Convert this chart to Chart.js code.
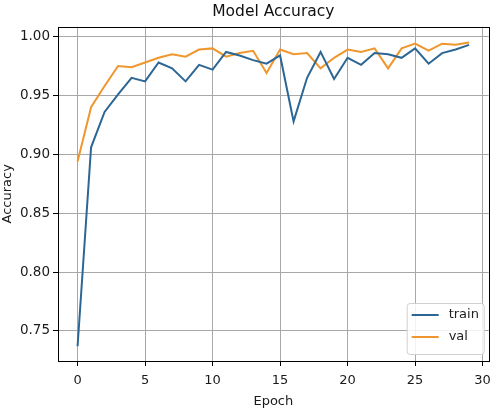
<!DOCTYPE html>
<html>
<head>
<meta charset="utf-8">
<script src="https://cdn.jsdelivr.net/npm/chart.js@4/dist/chart.umd.min.js"></script>
<style>
  html, body { margin: 0; padding: 0; background: #ffffff; }
  canvas { display: block; }
</style>
</head>
<body>
<canvas id="accChart" width="498" height="409"></canvas>
<script>
// ===============================
// Data
// ===============================

const epochs = [0, 1, 2, 3, 4, 5, 6, 7, 8, 9, 10, 11, 12, 13, 14,
                15, 16, 17, 18, 19, 20, 21, 22, 23, 24, 25, 26, 27, 28, 29];

const trainAcc = [0.737, 0.906, 0.936, 0.951, 0.965, 0.962, 0.978, 0.973, 0.962, 0.976,
                  0.972, 0.987, 0.984, 0.980, 0.977, 0.984, 0.928, 0.965, 0.987, 0.964,
                  0.982, 0.976, 0.986, 0.985, 0.982, 0.990, 0.977, 0.986, 0.989, 0.993];

const valAcc = [0.894, 0.940, 0.958, 0.975, 0.974, 0.978, 0.982, 0.985, 0.983, 0.989,
                0.990, 0.983, 0.986, 0.988, 0.969, 0.989, 0.985, 0.986, 0.973, 0.982,
                0.989, 0.987, 0.990, 0.973, 0.990, 0.994, 0.988, 0.994, 0.993, 0.995];

const xTicks = [0, 5, 10, 15, 20, 25, 30];
const yTicks = [0.75, 0.80, 0.85, 0.90, 0.95, 1.00];

// ===============================
// Styles
// ===============================

const FONT = "'DejaVu Sans', sans-serif";
const BLUE = "#2c6694";
const ORANGE = "#f0962e";
const GRID = "#a8a8a8";

// ===============================
// Plugins
// ===============================

// black frame round the plot area (matplotlib spines)
const framePlugin = {
    id: "frame",
    afterDraw(chart){
        const a = chart.chartArea;
        const c = chart.ctx;
        c.save();
        c.strokeStyle = "#000";
        c.lineWidth = 1;
        c.strokeRect(Math.round(a.left)+0.5, Math.round(a.top)+0.5,
                     Math.round(a.right-a.left), Math.round(a.bottom-a.top));
        c.restore();
    }
};

// legend in the lower right corner of the plot
const cornerLegend = {
    id: "cornerLegend",
    afterDraw(chart){
        const a = chart.chartArea;
        const c = chart.ctx;
        const sets = chart.data.datasets;
        const w = 77, rowH = 22;
        const h = sets.length*rowH + 7;
        const x = a.right - w - 5;
        const y = a.bottom - h - 7;

        c.save();
        c.fillStyle = "rgba(255,255,255,0.85)";
        c.strokeStyle = "#d0d0d0";
        c.lineWidth = 1;
        c.beginPath();
        c.roundRect(x+0.5, y+0.5, w, h, 3);
        c.fill();
        c.stroke();

        c.font = "13px " + FONT;
        c.textBaseline = "middle";
        sets.forEach((ds, i)=>{
            const cy = y + 12 + i*rowH;
            c.strokeStyle = ds.borderColor;
            c.lineWidth = 2;
            c.beginPath();
            c.moveTo(x+5, cy);
            c.lineTo(x+32, cy);
            c.stroke();
            c.fillStyle = "#222";
            c.fillText(ds.label, x+42, cy);
        });
        c.restore();
    }
};

// ===============================
// Chart
// ===============================

const ctx = document.getElementById("accChart");

const chart = new Chart(ctx, {
    type: "line",
    data: {
        datasets: [{
            label: "train",
            data: epochs.map((e, i)=>({x: e, y: trainAcc[i]})),
            borderColor: BLUE,
            borderWidth: 2,
            pointRadius: 0,
            tension: 0,
            fill: false
        },{
            label: "val",
            data: epochs.map((e, i)=>({x: e, y: valAcc[i]})),
            borderColor: ORANGE,
            borderWidth: 2,
            pointRadius: 0,
            tension: 0,
            fill: false
        }]
    },
    options: {
        responsive: false,
        animation: false,
        devicePixelRatio: 1,
        layout: { padding: { left: 0, right: 1, top: 0, bottom: 0 } },
        plugins: {
            legend: { display: false },
            tooltip: { enabled: false },
            title: {
                display: true,
                fullSize: false,
                text: "Model Accuracy",
                color: "#111",
                font: { family: FONT, size: 15.5, weight: "normal", lineHeight: 1.2 },
                padding: { top: 3, bottom: 5 }
            }
        },
        scales: {
            x: {
                type: "linear",
                min: -1.45,
                max: 30.45,
                afterBuildTicks: (s)=>{ s.ticks = xTicks.map(v=>({value: v})); },
                afterFit: (s)=>{ s.height = 48; },
                grid: { color: GRID, lineWidth: 1, tickColor: "#000", tickLength: 5 },
                border: { display: false },
                ticks: {
                    color: "#1a1a1a",
                    font: { family: FONT, size: 13 },
                    padding: 7,
                    maxRotation: 0,
                    callback: (v)=>String(v)
                },
                title: {
                    display: true,
                    text: "Epoch",
                    color: "#1a1a1a",
                    font: { family: FONT, size: 13 },
                    padding: { top: 0, bottom: 0 }
                }
            },
            y: {
                min: 0.7245,
                max: 1.0085,
                afterBuildTicks: (s)=>{ s.ticks = yTicks.map(v=>({value: v})); },
                afterFit: (s)=>{ s.width = 58; },
                grid: { color: GRID, lineWidth: 1, tickColor: "#000", tickLength: 5 },
                border: { display: false },
                ticks: {
                    color: "#1a1a1a",
                    font: { family: FONT, size: 13.5 },
                    padding: 3,
                    callback: (v)=>v.toFixed(2)
                },
                title: {
                    display: true,
                    text: "Accuracy",
                    color: "#1a1a1a",
                    font: { family: FONT, size: 13 },
                    padding: { top: 0, bottom: 0 }
                }
            }
        }
    },
    plugins: [framePlugin, cornerLegend]
});
</script>
</body>
</html>
